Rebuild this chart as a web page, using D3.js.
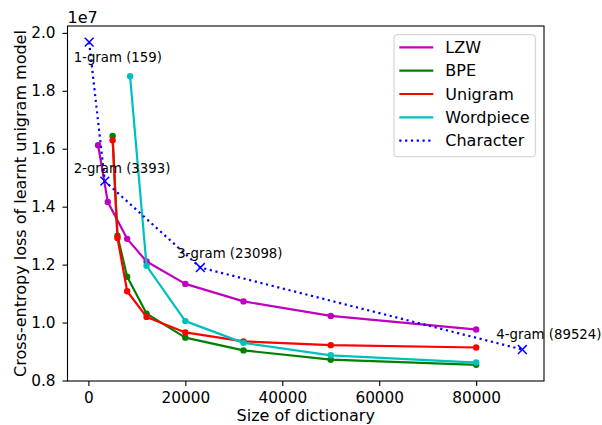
<!DOCTYPE html>
<html>
<head>
<meta charset="utf-8">
<script src="https://cdn.jsdelivr.net/npm/d3@7"></script>
<style>
  html, body { margin: 0; padding: 0; background: #ffffff; }
  svg { display: block; font-family: "DejaVu Sans", sans-serif; }
</style>
</head>
<body>
<svg id="chart" width="602" height="425"></svg>
<script>
// ---- data ----
const seriesNames = ["LZW", "BPE", "Unigram", "Wordpiece", "Character"];
const seriesColors = ["#bf00bf", "#008000", "#ff0000", "#00bfbf", "#0000ff"];

const lzwX = [2000, 4000, 8000, 12000, 20000, 32000, 50000, 80000];
const lzwY = [1.612e7, 1.4165e7, 1.289e7, 1.211e7, 1.1335e7, 1.073e7, 1.023e7, 0.976e7];

const bpeX = [5000, 6000, 8000, 12000, 20000, 32000, 50000, 80000];
const bpeY = [1.644e7, 1.300e7, 1.158e7, 1.031e7, 0.948e7, 0.904e7, 0.872e7, 0.854e7];

const unigramX = [5000, 6000, 8000, 12000, 20000, 32000, 50000, 80000];
const unigramY = [1.629e7, 1.292e7, 1.108e7, 1.0195e7, 0.966e7, 0.935e7, 0.922e7, 0.914e7];

const wordpieceX = [8600, 12000, 20000, 32000, 50000, 80000];
const wordpieceY = [1.850e7, 1.196e7, 1.005e7, 0.930e7, 0.887e7, 0.862e7];

const charX = [159, 3393, 23098, 89524];
const charY = [1.968e7, 1.488e7, 1.190e7, 0.907e7];
const charLabels = ["1-gram (159)", "2-gram (3393)", "3-gram (23098)", "4-gram (89524)"];
const charLabelX = [-3040, -3040, 18350, 84150];
const charLabelY = [1.899e7, 1.518e7, 1.2246e7, 0.945e7];

const xTicks = [0, 20000, 40000, 60000, 80000];
const yTicks = [0.8e7, 1.0e7, 1.2e7, 1.4e7, 1.6e7, 1.8e7, 2.0e7];
const xLabel = "Size of dictionary";
const yLabel = "Cross-entropy loss of learnt unigram model";
const offsetText = "1e7";

// ---- layout ----
const svg = d3.select("#chart");
const mLeft = 67.5, mRight = 544, mTop = 26, mBottom = 381;
const FS = 16, TFS = 15.3;

const allX = [].concat(lzwX, bpeX, unigramX, wordpieceX, charX);
const allY = [].concat(lzwY, bpeY, unigramY, wordpieceY, charY);
const [xmin, xmax] = d3.extent(allX);
const [ymin, ymax] = d3.extent(allY);
const mx = (xmax - xmin) * 0.05, my = (ymax - ymin) * 0.05;

const x = d3.scaleLinear().domain([xmin - mx, xmax + mx]).range([mLeft, mRight]);
const y = d3.scaleLinear().domain([ymin - my, ymax + my]).range([mBottom, mTop]);

// axes
const xAxis = d3.axisBottom(x).tickValues(xTicks).tickFormat(d3.format("d"))
  .tickSize(5).tickPadding(6.3).tickSizeOuter(0);
const yAxis = d3.axisLeft(y).tickValues(yTicks).tickFormat(d => (d / 1e7).toFixed(1))
  .tickSize(5).tickPadding(7).tickSizeOuter(0);

const gx = svg.append("g").attr("transform", `translate(0,${mBottom})`).call(xAxis);
const gy = svg.append("g").attr("transform", `translate(${mLeft},0)`).call(yAxis);
[gx, gy].forEach(g => {
  g.select(".domain").remove();
  g.selectAll(".tick line").attr("stroke", "#000").attr("stroke-width", 1.1);
  g.selectAll(".tick text").attr("fill", "#000").style("font-size", TFS + "px")
    .style("font-family", "DejaVu Sans");
});

// series
const lineGen = d3.line().x(d => x(d[0])).y(d => y(d[1]));
const series = [
  [lzwX, lzwY], [bpeX, bpeY], [unigramX, unigramY], [wordpieceX, wordpieceY]
];
const plot = svg.append("g");
series.forEach((s, i) => {
  const pts = s[0].map((v, j) => [v, s[1][j]]);
  plot.append("path").datum(pts).attr("d", lineGen)
    .attr("fill", "none").attr("stroke", seriesColors[i]).attr("stroke-width", 2.2)
    .attr("stroke-linejoin", "round").attr("stroke-linecap", "square");
  plot.selectAll(null).data(pts).enter().append("circle")
    .attr("cx", d => x(d[0])).attr("cy", d => y(d[1])).attr("r", 3.2)
    .attr("fill", seriesColors[i]);
});

// character series (dotted with x markers)
const cpts = charX.map((v, j) => [v, charY[j]]);
plot.append("path").datum(cpts).attr("d", lineGen)
  .attr("fill", "none").attr("stroke", seriesColors[4]).attr("stroke-width", 2.2)
  .attr("stroke-dasharray", "2.2,3.6");
const ms = 4.4;
cpts.forEach(p => {
  const cx = x(p[0]), cy = y(p[1]);
  plot.append("path")
    .attr("d", `M${cx - ms},${cy - ms}L${cx + ms},${cy + ms}M${cx - ms},${cy + ms}L${cx + ms},${cy - ms}`)
    .attr("stroke", seriesColors[4]).attr("stroke-width", 1.5).attr("fill", "none");
});

// annotations
charLabels.forEach((t, i) => {
  svg.append("text").attr("x", x(charLabelX[i])).attr("y", y(charLabelY[i]))
    .style("font-size", "13.3px").attr("fill", "#000").text(t);
});

// frame
svg.append("rect").attr("x", mLeft).attr("y", mTop).attr("width", mRight - mLeft).attr("height", mBottom - mTop)
  .attr("fill", "none").attr("stroke", "#000").attr("stroke-width", 1.1);

// axis labels
svg.append("text").attr("x", (mLeft + mRight) / 2).attr("y", 420.5).attr("text-anchor", "middle")
  .style("font-size", FS + "px").attr("fill", "#000").text(xLabel);
svg.append("text").attr("transform", `translate(26,${(mTop + mBottom) / 2}) rotate(-90)`)
  .attr("text-anchor", "middle").style("font-size", FS + "px").attr("fill", "#000").text(yLabel);
svg.append("text").attr("x", mLeft).attr("y", 22.5).style("font-size", FS + "px").attr("fill", "#000").text(offsetText);

// legend
const lg = svg.append("g");
lg.append("rect").attr("x", 394).attr("y", 34.7).attr("width", 141.3).attr("height", 122)
  .attr("rx", 3).attr("fill", "#fff").attr("fill-opacity", 0.8).attr("stroke", "#cccccc").attr("stroke-width", 1);
seriesNames.forEach((n, i) => {
  const cy = 47.3 + i * 23.35;
  const l = lg.append("line").attr("x1", 399.3).attr("x2", 433.3).attr("y1", cy).attr("y2", cy)
    .attr("stroke", seriesColors[i]).attr("stroke-width", 2.2);
  if (i === 4) l.attr("stroke-dasharray", "2.2,3.6");
  lg.append("text").attr("x", 445.3).attr("y", cy).attr("dy", "0.36em")
    .style("font-size", FS + "px").attr("fill", "#000").text(n);
});
</script>
</body>
</html>
